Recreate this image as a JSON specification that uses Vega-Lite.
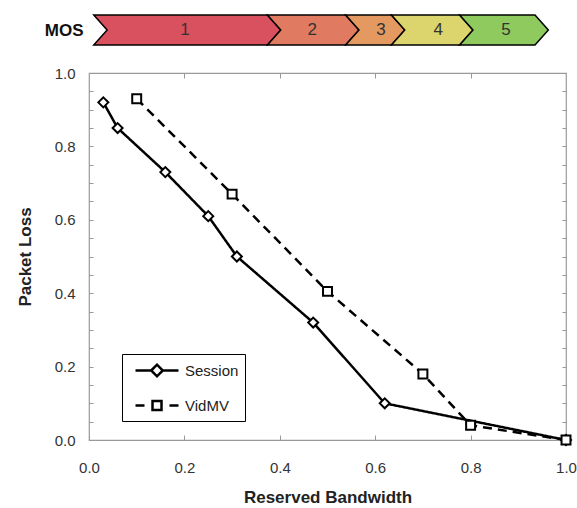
{
  "$schema": "https://vega.github.io/schema/vega-lite/v6.json",
  "padding": {"left": 15, "top": 12, "right": 0, "bottom": 0},
  "spacing": 17,
  "config": {
    "font": "Liberation Sans",
    "axis": {"labelFont": "Liberation Sans", "titleFont": "Liberation Sans", "labelColor": "#333", "titleColor": "#222", "tickColor": "#999", "domainColor": "#999", "grid": false, "labelFlush": false},
    "legend": {"labelFont": "Liberation Sans"}
  },
  "datasets": {
    "loss": [
      {"series": "Session", "bw": 0.03, "loss": 0.92},
      {"series": "Session", "bw": 0.06, "loss": 0.85},
      {"series": "Session", "bw": 0.16, "loss": 0.73},
      {"series": "Session", "bw": 0.25, "loss": 0.61},
      {"series": "Session", "bw": 0.31, "loss": 0.50},
      {"series": "Session", "bw": 0.47, "loss": 0.32},
      {"series": "Session", "bw": 0.62, "loss": 0.10},
      {"series": "Session", "bw": 1.0, "loss": 0.0},
      {"series": "VidMV", "bw": 0.10, "loss": 0.93},
      {"series": "VidMV", "bw": 0.30, "loss": 0.67},
      {"series": "VidMV", "bw": 0.50, "loss": 0.405},
      {"series": "VidMV", "bw": 0.70, "loss": 0.18},
      {"series": "VidMV", "bw": 0.80, "loss": 0.04},
      {"series": "VidMV", "bw": 1.0, "loss": 0.0}
    ],
    "mosBands": [
      {"mos": "1", "v": 0, "xl": 0.010, "xr": 0.374},
      {"mos": "1", "v": 0.5, "xl": 0.038, "xr": 0.402},
      {"mos": "1", "v": 1, "xl": 0.010, "xr": 0.374},
      {"mos": "2", "v": 0, "xl": 0.374, "xr": 0.538},
      {"mos": "2", "v": 0.5, "xl": 0.402, "xr": 0.566},
      {"mos": "2", "v": 1, "xl": 0.374, "xr": 0.538},
      {"mos": "3", "v": 0, "xl": 0.538, "xr": 0.634},
      {"mos": "3", "v": 0.5, "xl": 0.566, "xr": 0.662},
      {"mos": "3", "v": 1, "xl": 0.538, "xr": 0.634},
      {"mos": "4", "v": 0, "xl": 0.634, "xr": 0.777},
      {"mos": "4", "v": 0.5, "xl": 0.662, "xr": 0.805},
      {"mos": "4", "v": 1, "xl": 0.634, "xr": 0.777},
      {"mos": "5", "v": 0, "xl": 0.777, "xr": 0.935},
      {"mos": "5", "v": 0.5, "xl": 0.805, "xr": 0.963},
      {"mos": "5", "v": 1, "xl": 0.777, "xr": 0.935}
    ],
    "mosLabels": [
      {"mos": "1", "cx": 0.201},
      {"mos": "2", "cx": 0.468},
      {"mos": "3", "cx": 0.612},
      {"mos": "4", "cx": 0.732},
      {"mos": "5", "cx": 0.874}
    ]
  },
  "vconcat": [
    {
      "width": 477,
      "height": 30,
      "view": {"stroke": null},
      "layer": [
        {
          "data": {"name": "mosBands"},
          "mark": {"type": "area", "orient": "horizontal", "stroke": "black", "strokeWidth": 1.5, "fillOpacity": 1, "strokeJoin": "miter"},
          "encoding": {
            "y": {"field": "v", "type": "quantitative", "scale": {"domain": [0, 1]},
                  "axis": {"title": "MOS", "labels": false, "ticks": false, "domain": false, "titleAngle": 0, "titleAlign": "right", "titleBaseline": "middle", "titleX": -6, "titleY": 15, "titleFontSize": 17, "titleFontWeight": "bold", "titleColor": "#111"}},
            "x": {"field": "xl", "type": "quantitative", "stack": null, "scale": {"domain": [0, 1], "nice": false}, "axis": null},
            "x2": {"field": "xr"},
            "color": {"field": "mos", "type": "nominal", "legend": null,
                      "scale": {"domain": ["1", "2", "3", "4", "5"], "range": ["#d9505e", "#e07a60", "#e3995f", "#dcd46d", "#8fca5e"]}}
          }
        },
        {
          "data": {"name": "mosLabels"},
          "mark": {"type": "text", "fontSize": 17, "color": "#333", "baseline": "middle", "align": "center"},
          "encoding": {
            "x": {"field": "cx", "type": "quantitative"},
            "y": {"datum": 0.5},
            "text": {"field": "mos"}
          }
        }
      ]
    },
    {
      "width": 477,
      "height": 367,
      "view": {"stroke": "#999", "strokeWidth": 1.2},
      "data": {"name": "loss"},
      "layer": [
        {
          "mark": {"type": "line", "color": "black", "strokeWidth": 2.5},
          "encoding": {
            "x": {"field": "bw", "type": "quantitative", "scale": {"domain": [0, 1], "nice": false},
                  "axis": {"orient": "bottom", "values": [0, 0.2, 0.4, 0.6, 0.8, 1.0], "format": ".1f", "title": "Reserved Bandwidth",
                           "domain": false, "tickSize": -5, "labelPadding": 25, "labelFontSize": 15, "titleFontSize": 17, "titleFontWeight": "bold", "titlePadding": 14}},
            "y": {"field": "loss", "type": "quantitative", "scale": {"domain": [0, 1], "nice": false},
                  "axis": {"orient": "left", "values": [0, 0.05, 0.1, 0.15, 0.2, 0.25, 0.3, 0.35, 0.4, 0.45, 0.5, 0.55, 0.6, 0.65, 0.7, 0.75, 0.8, 0.85, 0.9, 0.95, 1.0],
                           "labelExpr": "round(datum.value * 100) % 20 == 0 ? format(datum.value, '.1f') : ''",
                           "title": "Packet Loss", "domain": false, "tickSize": -4, "labelPadding": 18, "labelFontSize": 15, "titleFontSize": 17, "titleFontWeight": "bold", "titlePadding": 20}},
            "strokeDash": {"field": "series", "type": "nominal", "legend": null,
                           "scale": {"domain": ["Session", "VidMV"], "range": [[1, 0], [9, 6]]}}
          }
        },
        {
          "mark": {"type": "point", "filled": true, "fill": "white", "stroke": "black", "strokeWidth": 2, "opacity": 1},
          "encoding": {
            "x": {"field": "bw", "type": "quantitative",
                  "axis": {"orient": "top", "values": [0.2, 0.4, 0.6, 0.8], "labels": false, "title": null, "domain": false, "tickSize": -5}},
            "y": {"field": "loss", "type": "quantitative",
                  "axis": {"orient": "right", "values": [0.05, 0.1, 0.15, 0.2, 0.25, 0.3, 0.35, 0.4, 0.45, 0.5, 0.55, 0.6, 0.65, 0.7, 0.75, 0.8, 0.85, 0.9, 0.95],
                           "labels": false, "title": null, "domain": false, "tickSize": -4}},
            "shape": {"field": "series", "type": "nominal", "legend": null,
                      "scale": {"domain": ["Session", "VidMV"], "range": ["diamond", "square"]}},
            "size": {"field": "series", "type": "nominal", "legend": null,
                     "scale": {"domain": ["Session", "VidMV"], "range": [100, 80]}}
          }
        },
        {
          "mark": {"type": "point", "opacity": 0},
          "encoding": {
            "x": {"field": "bw", "type": "quantitative", "axis": null},
            "y": {"field": "loss", "type": "quantitative", "axis": null},
            "shape": {"field": "series", "type": "nominal",
                      "scale": {"domain": ["Session", "VidMV"],
                                "range": ["M-0.333,0L1.411,0M2.7,0L4.444,0M1.411,0L2.056,-0.644L2.7,0L2.056,0.644Z",
                                          "M-0.333,0L0.667,0M3.444,0L4.444,0M1.556,-0.5L2.556,-0.5L2.556,0.5L1.556,0.5Z"]},
                      "legend": {"title": null, "orient": "none", "legendX": 33, "legendY": 281,
                                 "strokeColor": "black", "fillColor": "white", "padding": 6,
                                 "symbolSize": 324, "symbolStrokeColor": "black", "symbolFillColor": "white",
                                 "symbolStrokeWidth": 2.5, "symbolOpacity": 1, "symbolDash": [],
                                 "labelFontSize": 15, "labelColor": "#222", "labelOffset": 36, "rowPadding": 13}}
          }
        }
      ],
      "resolve": {
        "scale": {"shape": "independent", "size": "independent"},
        "legend": {"shape": "independent"},
        "axis": {"x": "independent", "y": "independent"}
      }
    }
  ]
}
